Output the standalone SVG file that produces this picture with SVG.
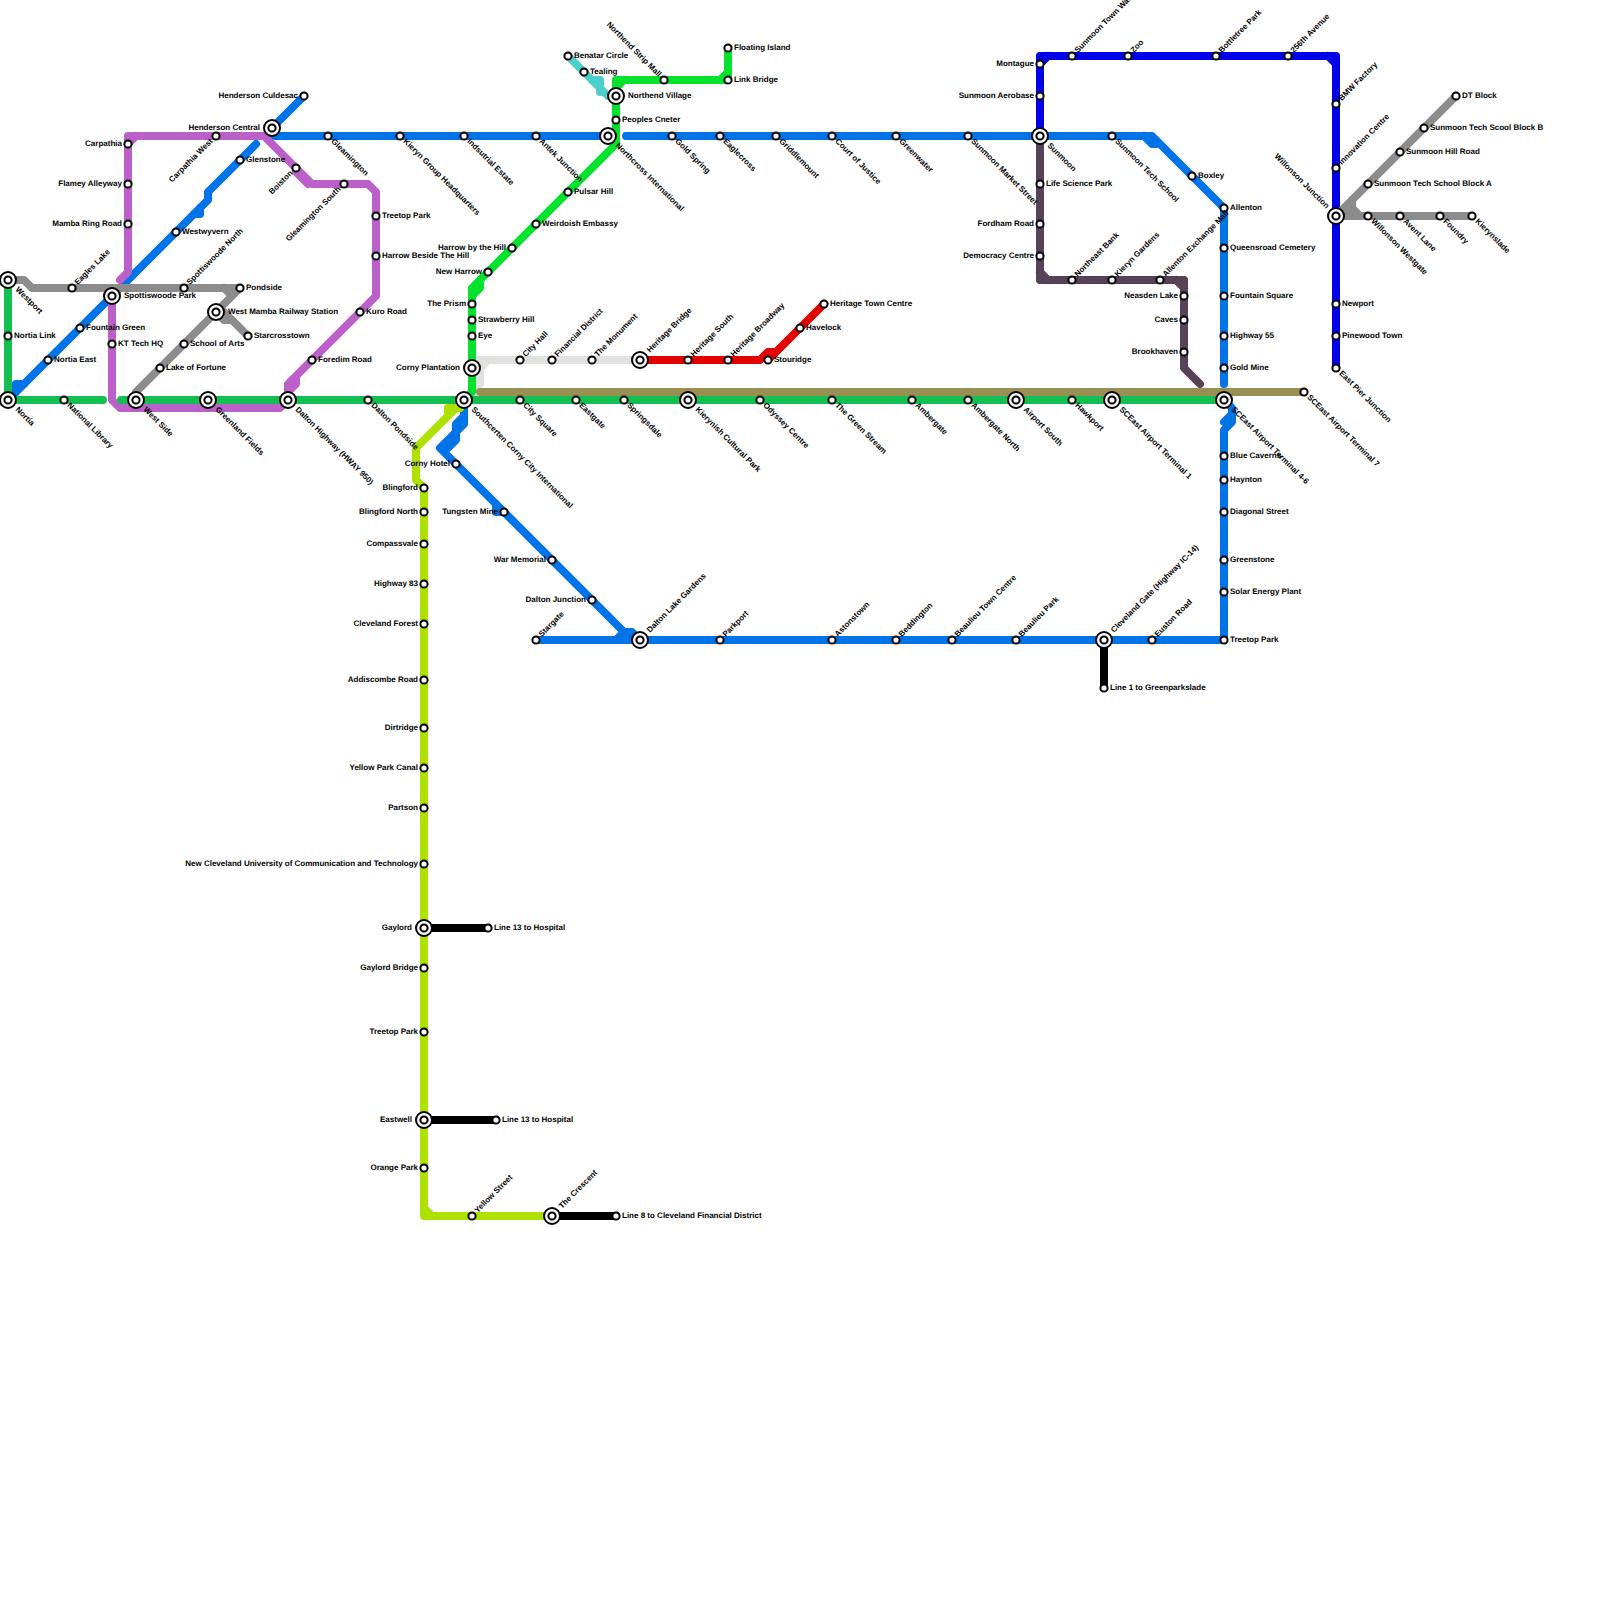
<svg xmlns="http://www.w3.org/2000/svg" width="1600" height="1600" viewBox="0 0 1600 1600">
<style>
text{font-family:"Liberation Sans",Arial,sans-serif;font-size:8px;font-weight:bold;fill:#000;text-rendering:geometricPrecision}
.e{text-anchor:end}
#connectors path{fill:none;stroke-width:8;stroke-linecap:round;stroke-linejoin:round}
.blue{stroke:#0073e6}.green{stroke:#12bf50}.purple{stroke:#bb60c8}.grey{stroke:#8c8c8c}.teal{stroke:#4ccfcc}.lime{stroke:#aee000}.bright{stroke:#05e22d}.silver{stroke:#dfe2df}.red{stroke:#e30000}.olive{stroke:#998f54}.deep{stroke:#0000e8}.plum{stroke:#574258}.black{stroke:#000}
circle{fill:#fff;stroke:#000;stroke-width:2}
</style>
<defs>
<g id="s"><circle r="3.6"/></g>
<g id="i"><circle r="8"/><circle r="3.6"/></g>
</defs>
<rect width="1600" height="1600" fill="#fff"/>
<g id="connectors">
<path class="blue" d="M304,96L272,128M272,136H608M626,136H1152L1224,208V384M1144,136L1152,144H1156"/>
<path class="blue" d="M1224,400L1232,408V422L1224,430V640H536M1232,414L1224,422"/>
<path class="blue" d="M464,400V424L456,432L440,448L624,632H632L640,640M616,640L624,632M496,504V512H504M464,416L456,424V440L448,448"/>
<path class="blue" d="M256,144L208,192V200L8,400M200,208V214H194M24,384H16V392"/>
<path class="plum" d="M1040,136V280H1184V368L1200,384M1040,272L1048,280M1176,280L1184,288"/>
<path class="deep" d="M1040,136V56H1336V368M1040,64L1048,56M1328,56L1336,64"/>
<path class="purple" d="M120,280L128,272V136H264M128,144L136,136M264,136L312,184H368L376,192V296L296,376V384L288,392M296,168V172L308,184M288,400V384L296,376"/>
<path class="purple" d="M112,296V400L120,408H280L288,400"/>
<path class="grey" d="M8,280H24L32,288H240L136,392V400M224,288L232,296M216,312H224L248,336M216,312L224,320H232"/>
<path class="grey" d="M1336,216H1472M1336,216L1456,96M1352,200V208L1360,216M1346,212H1352V204"/>
<path class="teal" d="M568,56L608,96H616M592,80H600V92"/>
<path class="silver" d="M472,360H640M488,360L480,368V384L472,392"/>
<path class="lime" d="M424,488L416,480V448L456,408H460M448,416V408H456M424,488V1216H552M424,1208L432,1216"/>
<path class="bright" d="M728,48V80H616V144L480,280V288L472,296V392L464,400M720,80L728,72M616,88L624,80M472,296V288L480,280"/>
<path class="red" d="M640,360H760L768,352H776L824,304M776,352L768,360"/>
<path class="olive" d="M480,392H1304"/>
<path class="green" d="M8,280V400H103M121,400H1224"/>
<path class="black" d="M424,928H488M424,1120H496M552,1216H616M1104,640V688"/>
</g>
<g id="n1"><use href="#i" x="8" y="280"/><text transform="translate(8,280) rotate(45)" x="12" y="2">Westport</text></g>
<g id="n2"><use href="#s" x="8" y="336"/><text x="14" y="338">Nortia Link</text></g>
<g id="n3"><use href="#i" x="8" y="400"/><text transform="translate(8,400) rotate(45)" x="12" y="2">Nortia</text></g>
<g id="n4"><use href="#s" x="48" y="360"/><text x="54" y="362">Nortia East</text></g>
<g id="n5"><use href="#s" x="64" y="400"/><text transform="translate(64,400) rotate(45)" x="6" y="2">National Library</text></g>
<g id="n6"><use href="#s" x="72" y="288"/><text transform="translate(72,288) rotate(-45)" x="6" y="2">Eagles Lake</text></g>
<g id="n7"><use href="#s" x="80" y="328"/><text x="86" y="330">Fountain Green</text></g>
<g id="n8"><use href="#i" x="112" y="296"/><text x="124" y="298">Spottiswoode Park</text></g>
<g id="n9"><use href="#s" x="112" y="344"/><text x="118" y="346">KT Tech HQ</text></g>
<g id="n10"><use href="#i" x="136" y="400"/><text transform="translate(136,400) rotate(45)" x="12" y="2">West Side</text></g>
<g id="n11"><use href="#s" x="160" y="368"/><text x="166" y="370">Lake of Fortune</text></g>
<g id="n12"><use href="#s" x="184" y="344"/><text x="190" y="346">School of Arts</text></g>
<g id="n13"><use href="#i" x="216" y="312"/><text x="228" y="314">West Mamba Railway Station</text></g>
<g id="n14"><use href="#s" x="248" y="336"/><text x="254" y="338">Starcrosstown</text></g>
<g id="n15"><use href="#s" x="240" y="288"/><text x="246" y="290">Pondside</text></g>
<g id="n16"><use href="#s" x="184" y="288"/><text transform="translate(184,288) rotate(-45)" x="6" y="2">Spottiswoode North</text></g>
<g id="n17"><use href="#s" x="176" y="232"/><text x="182" y="234">Westwyvern</text></g>
<g id="n18"><use href="#s" x="240" y="160"/><text x="246" y="162">Glenstone</text></g>
<g id="n19"><use href="#s" x="304" y="96"/><text class="e" x="298" y="98">Henderson Culdesac</text></g>
<g id="n20"><use href="#i" x="272" y="128"/><text class="e" x="260" y="130">Henderson Central</text></g>
<g id="n21"><use href="#s" x="216" y="136"/><text class="e" transform="translate(216,136) rotate(-45)" x="-6" y="2">Carpathia West</text></g>
<g id="n22"><use href="#s" x="128" y="144"/><text class="e" x="122" y="146">Carpathia</text></g>
<g id="n23"><use href="#s" x="128" y="184"/><text class="e" x="122" y="186">Flamey Alleyway</text></g>
<g id="n24"><use href="#s" x="128" y="224"/><text class="e" x="122" y="226">Mamba Ring Road</text></g>
<g id="n25"><use href="#s" x="296" y="168"/><text class="e" transform="translate(296,168) rotate(-45)" x="-6" y="2">Boiston</text></g>
<g id="n26"><use href="#s" x="344" y="184"/><text class="e" transform="translate(344,184) rotate(-45)" x="-6" y="2">Gleamington South</text></g>
<g id="n27"><use href="#s" x="328" y="136"/><text transform="translate(328,136) rotate(45)" x="6" y="2">Gleamington</text></g>
<g id="n28"><use href="#s" x="376" y="216"/><text x="382" y="218">Treetop Park</text></g>
<g id="n29"><use href="#s" x="376" y="256"/><text x="382" y="258">Harrow Beside The Hill</text></g>
<g id="n30"><use href="#s" x="360" y="312"/><text x="366" y="314">Kuro Road</text></g>
<g id="n31"><use href="#s" x="312" y="360"/><text x="318" y="362">Foredim Road</text></g>
<g id="n32"><use href="#i" x="208" y="400"/><text transform="translate(208,400) rotate(45)" x="12" y="2">Greenland Fields</text></g>
<g id="n33"><use href="#i" x="288" y="400"/><text transform="translate(288,400) rotate(45)" x="12" y="2">Dalton Highway (HWAY 950)</text></g>
<g id="n34"><use href="#s" x="368" y="400"/><text transform="translate(368,400) rotate(45)" x="6" y="2">Dalton Pondside</text></g>
<g id="n35"><use href="#s" x="400" y="136"/><text transform="translate(400,136) rotate(45)" x="6" y="2">Kieryn Group Headquarters</text></g>
<g id="n36"><use href="#s" x="464" y="136"/><text transform="translate(464,136) rotate(45)" x="6" y="2">Indsutrial Estate</text></g>
<g id="n37"><use href="#s" x="536" y="136"/><text transform="translate(536,136) rotate(45)" x="6" y="2">Antek Junction</text></g>
<g id="n38"><use href="#i" x="608" y="136"/><text transform="translate(608,136) rotate(45)" x="12" y="2">Northcross International</text></g>
<g id="n39"><use href="#s" x="568" y="192"/><text x="574" y="194">Pulsar Hill</text></g>
<g id="n40"><use href="#s" x="536" y="224"/><text x="542" y="226">Weirdoish Embassy</text></g>
<g id="n41"><use href="#s" x="512" y="248"/><text class="e" x="506" y="250">Harrow by the Hill</text></g>
<g id="n42"><use href="#s" x="488" y="272"/><text class="e" x="482" y="274">New Harrow</text></g>
<g id="n43"><use href="#s" x="472" y="304"/><text class="e" x="466" y="306">The Prism</text></g>
<g id="n44"><use href="#s" x="472" y="320"/><text x="478" y="322">Strawberry Hill</text></g>
<g id="n45"><use href="#s" x="472" y="336"/><text x="478" y="338">Eye</text></g>
<g id="n46"><use href="#i" x="472" y="368"/><text class="e" x="460" y="370">Corny Plantation</text></g>
<g id="n47"><use href="#s" x="520" y="360"/><text transform="translate(520,360) rotate(-45)" x="6" y="2">City Hall</text></g>
<g id="n48"><use href="#s" x="552" y="360"/><text transform="translate(552,360) rotate(-45)" x="6" y="2">Financial District</text></g>
<g id="n49"><use href="#s" x="592" y="360"/><text transform="translate(592,360) rotate(-45)" x="6" y="2">The Monument</text></g>
<g id="n50"><use href="#i" x="640" y="360"/><text transform="translate(640,360) rotate(-45)" x="12" y="2">Heritage Bridge</text></g>
<g id="n51"><use href="#s" x="688" y="360"/><text transform="translate(688,360) rotate(-45)" x="6" y="2">Heritage South</text></g>
<g id="n52"><use href="#s" x="728" y="360"/><text transform="translate(728,360) rotate(-45)" x="6" y="2">Heritage Broadway</text></g>
<g id="n53"><use href="#s" x="768" y="360"/><text x="774" y="362">Stouridge</text></g>
<g id="n54"><use href="#s" x="800" y="328"/><text x="806" y="330">Havelock</text></g>
<g id="n55"><use href="#s" x="824" y="304"/><text x="830" y="306">Heritage Town Centre</text></g>
<g id="n56"><use href="#i" x="464" y="400"/><text transform="translate(464,400) rotate(45)" x="12" y="2">Southcerten Corny City International</text></g>
<g id="n57"><use href="#s" x="520" y="400"/><text transform="translate(520,400) rotate(45)" x="6" y="2">City Square</text></g>
<g id="n58"><use href="#s" x="576" y="400"/><text transform="translate(576,400) rotate(45)" x="6" y="2">Eastgate</text></g>
<g id="n59"><use href="#s" x="624" y="400"/><text transform="translate(624,400) rotate(45)" x="6" y="2">Springsdale</text></g>
<g id="n60"><use href="#i" x="688" y="400"/><text transform="translate(688,400) rotate(45)" x="12" y="2">Kierynish Cultural Park</text></g>
<g id="n61"><use href="#s" x="760" y="400"/><text transform="translate(760,400) rotate(45)" x="6" y="2">Odyssey Centre</text></g>
<g id="n62"><use href="#s" x="832" y="400"/><text transform="translate(832,400) rotate(45)" x="6" y="2">The Green Stream</text></g>
<g id="n63"><use href="#s" x="912" y="400"/><text transform="translate(912,400) rotate(45)" x="6" y="2">Ambergate</text></g>
<g id="n64"><use href="#s" x="968" y="400"/><text transform="translate(968,400) rotate(45)" x="6" y="2">Ambergate North</text></g>
<g id="n65"><use href="#i" x="1016" y="400"/><text transform="translate(1016,400) rotate(45)" x="12" y="2">Airport South</text></g>
<g id="n66"><use href="#s" x="1072" y="400"/><text transform="translate(1072,400) rotate(45)" x="6" y="2">Hawkport</text></g>
<g id="n67"><use href="#i" x="1112" y="400"/><text transform="translate(1112,400) rotate(45)" x="12" y="2">SCEast Airport Terminal 1</text></g>
<g id="n68"><use href="#i" x="1224" y="400"/><text transform="translate(1224,400) rotate(45)" x="12" y="2">SCEast Airport Terminal 4-6</text></g>
<g id="n69"><use href="#s" x="1304" y="392"/><text transform="translate(1304,392) rotate(45)" x="6" y="2">SCEast Airport Terminal 7</text></g>
<g id="n70"><use href="#s" x="672" y="136"/><text transform="translate(672,136) rotate(45)" x="6" y="2">Gold Spring</text></g>
<g id="n71"><use href="#s" x="720" y="136"/><text transform="translate(720,136) rotate(45)" x="6" y="2">Eaglecross</text></g>
<g id="n72"><use href="#s" x="776" y="136"/><text transform="translate(776,136) rotate(45)" x="6" y="2">Griddlemount</text></g>
<g id="n73"><use href="#s" x="832" y="136"/><text transform="translate(832,136) rotate(45)" x="6" y="2">Court of Justice</text></g>
<g id="n74"><use href="#s" x="896" y="136"/><text transform="translate(896,136) rotate(45)" x="6" y="2">Greenwater</text></g>
<g id="n75"><use href="#s" x="968" y="136"/><text transform="translate(968,136) rotate(45)" x="6" y="2">Sunmoon Market Street</text></g>
<g id="n76"><use href="#i" x="1040" y="136"/><text transform="translate(1040,136) rotate(45)" x="12" y="2">Sunmoon</text></g>
<g id="n77"><use href="#s" x="1112" y="136"/><text transform="translate(1112,136) rotate(45)" x="6" y="2">Sunmoon Tech School</text></g>
<g id="n78"><use href="#s" x="1192" y="176"/><text x="1198" y="178">Boxley</text></g>
<g id="n79"><use href="#s" x="1224" y="208"/><text x="1230" y="210">Allenton</text></g>
<g id="n80"><use href="#s" x="1224" y="248"/><text x="1230" y="250">Queensroad Cemetery</text></g>
<g id="n81"><use href="#s" x="1224" y="296"/><text x="1230" y="298">Fountain Square</text></g>
<g id="n82"><use href="#s" x="1224" y="336"/><text x="1230" y="338">Highway 55</text></g>
<g id="n83"><use href="#s" x="1224" y="368"/><text x="1230" y="370">Gold Mine</text></g>
<g id="n84"><use href="#s" x="1224" y="456"/><text x="1230" y="458">Blue Caverns</text></g>
<g id="n85"><use href="#s" x="1224" y="480"/><text x="1230" y="482">Haynton</text></g>
<g id="n86"><use href="#s" x="1224" y="512"/><text x="1230" y="514">Diagonal Street</text></g>
<g id="n87"><use href="#s" x="1224" y="560"/><text x="1230" y="562">Greenstone</text></g>
<g id="n88"><use href="#s" x="1224" y="592"/><text x="1230" y="594">Solar Energy Plant</text></g>
<g id="n89"><use href="#s" x="1224" y="640"/><text x="1230" y="642">Treetop Park</text></g>
<g id="n90"><use href="#s" x="1152" y="640"/><text transform="translate(1152,640) rotate(-45)" x="6" y="2">Euston Road</text></g>
<g id="n91"><use href="#i" x="1104" y="640"/><text transform="translate(1104,640) rotate(-45)" x="12" y="2">Cleveland Gate (Highway IC-14)</text></g>
<g id="n92"><use href="#s" x="1104" y="688"/><text x="1110" y="690">Line 1 to Greenparkslade</text></g>
<g id="n93"><use href="#s" x="1016" y="640"/><text transform="translate(1016,640) rotate(-45)" x="6" y="2">Beaulieu Park</text></g>
<g id="n94"><use href="#s" x="952" y="640"/><text transform="translate(952,640) rotate(-45)" x="6" y="2">Beaulieu Town Centre</text></g>
<g id="n95"><use href="#s" x="896" y="640"/><text transform="translate(896,640) rotate(-45)" x="6" y="2">Beddington</text></g>
<g id="n96"><use href="#s" x="832" y="640"/><text transform="translate(832,640) rotate(-45)" x="6" y="2">Astonstown</text></g>
<g id="n97"><use href="#s" x="720" y="640"/><text transform="translate(720,640) rotate(-45)" x="6" y="2">Parkport</text></g>
<g id="n98"><use href="#i" x="640" y="640"/><text transform="translate(640,640) rotate(-45)" x="12" y="2">Dalton Lake Gardens</text></g>
<g id="n99"><use href="#s" x="536" y="640"/><text transform="translate(536,640) rotate(-45)" x="6" y="2">Stargate</text></g>
<g id="n100"><use href="#s" x="592" y="600"/><text class="e" x="586" y="602">Dalton Junction</text></g>
<g id="n101"><use href="#s" x="552" y="560"/><text class="e" x="546" y="562">War Memorial</text></g>
<g id="n102"><use href="#s" x="504" y="512"/><text class="e" x="498" y="514">Tungsten Mine</text></g>
<g id="n103"><use href="#s" x="456" y="464"/><text class="e" x="450" y="466">Corny Hotel</text></g>
<g id="n104"><use href="#s" x="424" y="488"/><text class="e" x="418" y="490">Blingford</text></g>
<g id="n105"><use href="#s" x="424" y="512"/><text class="e" x="418" y="514">Blingford North</text></g>
<g id="n106"><use href="#s" x="424" y="544"/><text class="e" x="418" y="546">Compassvale</text></g>
<g id="n107"><use href="#s" x="424" y="584"/><text class="e" x="418" y="586">Highway 83</text></g>
<g id="n108"><use href="#s" x="424" y="624"/><text class="e" x="418" y="626">Cleveland Forest</text></g>
<g id="n109"><use href="#s" x="424" y="680"/><text class="e" x="418" y="682">Addiscombe Road</text></g>
<g id="n110"><use href="#s" x="424" y="728"/><text class="e" x="418" y="730">Dirtridge</text></g>
<g id="n111"><use href="#s" x="424" y="768"/><text class="e" x="418" y="770">Yellow Park Canal</text></g>
<g id="n112"><use href="#s" x="424" y="808"/><text class="e" x="418" y="810">Partson</text></g>
<g id="n113"><use href="#s" x="424" y="864"/><text class="e" x="418" y="866">New Cleveland University of Communication and Technology</text></g>
<g id="n114"><use href="#i" x="424" y="928"/><text class="e" x="412" y="930">Gaylord</text></g>
<g id="n115"><use href="#s" x="488" y="928"/><text x="494" y="930">Line 13 to Hospital</text></g>
<g id="n116"><use href="#s" x="424" y="968"/><text class="e" x="418" y="970">Gaylord Bridge</text></g>
<g id="n117"><use href="#s" x="424" y="1032"/><text class="e" x="418" y="1034">Treetop Park</text></g>
<g id="n118"><use href="#i" x="424" y="1120"/><text class="e" x="412" y="1122">Eastwell</text></g>
<g id="n119"><use href="#s" x="496" y="1120"/><text x="502" y="1122">Line 13 to Hospital</text></g>
<g id="n120"><use href="#s" x="424" y="1168"/><text class="e" x="418" y="1170">Orange Park</text></g>
<g id="n121"><use href="#s" x="472" y="1216"/><text transform="translate(472,1216) rotate(-45)" x="6" y="2">Yellow Street</text></g>
<g id="n122"><use href="#i" x="552" y="1216"/><text transform="translate(552,1216) rotate(-45)" x="12" y="2">The Crescent</text></g>
<g id="n123"><use href="#s" x="616" y="1216"/><text x="622" y="1218">Line 8 to Cleveland Financial District</text></g>
<g id="n124"><use href="#s" x="568" y="56"/><text x="574" y="58">Benatar Circle</text></g>
<g id="n125"><use href="#s" x="584" y="72"/><text x="590" y="74">Tealing</text></g>
<g id="n126"><use href="#i" x="616" y="96"/><text x="628" y="98">Northend Village</text></g>
<g id="n127"><use href="#s" x="616" y="120"/><text x="622" y="122">Peoples Cneter</text></g>
<g id="n128"><use href="#s" x="664" y="80"/><text class="e" transform="translate(664,80) rotate(45)" x="-6" y="2">Northend Strip Mall</text></g>
<g id="n129"><use href="#s" x="728" y="48"/><text x="734" y="50">Floating Island</text></g>
<g id="n130"><use href="#s" x="728" y="80"/><text x="734" y="82">Link Bridge</text></g>
<g id="n131"><use href="#s" x="1040" y="64"/><text class="e" x="1034" y="66">Montague</text></g>
<g id="n132"><use href="#s" x="1040" y="96"/><text class="e" x="1034" y="98">Sunmoon Aerobase</text></g>
<g id="n133"><use href="#s" x="1072" y="56"/><text transform="translate(1072,56) rotate(-45)" x="6" y="2">Sunmoon Town Walk</text></g>
<g id="n134"><use href="#s" x="1128" y="56"/><text transform="translate(1128,56) rotate(-45)" x="6" y="2">Zoo</text></g>
<g id="n135"><use href="#s" x="1216" y="56"/><text transform="translate(1216,56) rotate(-45)" x="6" y="2">Bottletree Park</text></g>
<g id="n136"><use href="#s" x="1288" y="56"/><text transform="translate(1288,56) rotate(-45)" x="6" y="2">256th Avenue</text></g>
<g id="n137"><use href="#s" x="1336" y="104"/><text transform="translate(1336,104) rotate(-45)" x="6" y="2">BMW Factory</text></g>
<g id="n138"><use href="#s" x="1336" y="168"/><text transform="translate(1336,168) rotate(-45)" x="6" y="2">Innovation Centre</text></g>
<g id="n139"><use href="#i" x="1336" y="216"/><text class="e" transform="translate(1336,216) rotate(45)" x="-12" y="2">Willonson Junction</text></g>
<g id="n140"><use href="#s" x="1336" y="304"/><text x="1342" y="306">Newport</text></g>
<g id="n141"><use href="#s" x="1336" y="336"/><text x="1342" y="338">Pinewood Town</text></g>
<g id="n142"><use href="#s" x="1336" y="368"/><text transform="translate(1336,368) rotate(45)" x="6" y="2">East Pier Junction</text></g>
<g id="n143"><use href="#s" x="1368" y="184"/><text x="1374" y="186">Sunmoon Tech School Block A</text></g>
<g id="n144"><use href="#s" x="1400" y="152"/><text x="1406" y="154">Sunmoon Hill Road</text></g>
<g id="n145"><use href="#s" x="1424" y="128"/><text x="1430" y="130">Sunmoon Tech Scool Block B</text></g>
<g id="n146"><use href="#s" x="1456" y="96"/><text x="1462" y="98">DT Block</text></g>
<g id="n147"><use href="#s" x="1368" y="216"/><text transform="translate(1368,216) rotate(45)" x="6" y="2">Willonson Westgate</text></g>
<g id="n148"><use href="#s" x="1400" y="216"/><text transform="translate(1400,216) rotate(45)" x="6" y="2">Avent Lane</text></g>
<g id="n149"><use href="#s" x="1440" y="216"/><text transform="translate(1440,216) rotate(45)" x="6" y="2">Foundry</text></g>
<g id="n150"><use href="#s" x="1472" y="216"/><text transform="translate(1472,216) rotate(45)" x="6" y="2">Kierynslade</text></g>
<g id="n151"><use href="#s" x="1040" y="184"/><text x="1046" y="186">Life Science Park</text></g>
<g id="n152"><use href="#s" x="1040" y="224"/><text class="e" x="1034" y="226">Fordham Road</text></g>
<g id="n153"><use href="#s" x="1040" y="256"/><text class="e" x="1034" y="258">Democracy Centre</text></g>
<g id="n154"><use href="#s" x="1072" y="280"/><text transform="translate(1072,280) rotate(-45)" x="6" y="2">Northeast Bank</text></g>
<g id="n155"><use href="#s" x="1112" y="280"/><text transform="translate(1112,280) rotate(-45)" x="6" y="2">Kieryn Gardens</text></g>
<g id="n156"><use href="#s" x="1160" y="280"/><text transform="translate(1160,280) rotate(-45)" x="6" y="2">Allenton Exchange Mall</text></g>
<g id="n157"><use href="#s" x="1184" y="296"/><text class="e" x="1178" y="298">Neasden Lake</text></g>
<g id="n158"><use href="#s" x="1184" y="320"/><text class="e" x="1178" y="322">Caves</text></g>
<g id="n159"><use href="#s" x="1184" y="352"/><text class="e" x="1178" y="354">Brookhaven</text></g>
</svg>
